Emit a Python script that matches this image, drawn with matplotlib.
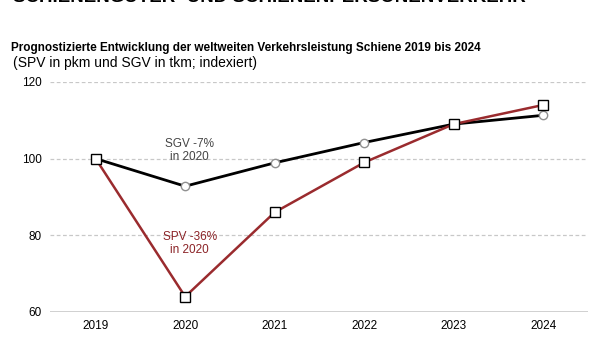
import matplotlib.pyplot as plt

years = [2019, 2020, 2021, 2022, 2023, 2024]
sgv = [100, 92.8, 98.9, 104.2, 109.0, 111.3]
spv = [100, 64.0, 86.0, 99.0, 109.0, 114.0]
y_ticks = [60, 80, 100, 120]

plt.rcParams['font.family'] = ['Liberation Sans', 'DejaVu Sans']

fig = plt.figure(figsize=(6.05, 3.4), dpi=100)
ax = fig.add_axes([0.0826, 0.0824, 0.972 - 0.0826, 0.759 - 0.0824])

# cut-off heading at the very top (only the bottom of the letters shows)
fig.text(0.022, 1 - 2.5 / 340, 'SCHIENENGÜTER- UND SCHIENENPERSONENVERKEHR',
         fontsize=13.5, fontweight='bold', color='black', va='baseline', ha='left')

fig.text(0.019, 1 - 48 / 340,
         'Prognostizierte Entwicklung der weltweiten Verkehrsleistung Schiene 2019 bis 2024',
         fontsize=8.5, fontweight='bold', va='center', ha='left')
fig.text(0.021, 1 - 63 / 340, '(SPV in pkm und SGV in tkm; indexiert)',
         fontsize=10, va='center', ha='left')

for y in [80, 100, 120]:
    ax.axhline(y, color='#c8c8c8', lw=0.9, ls=(0, (3, 2)), zorder=0)
ax.axhline(60, color='#c8c8c8', lw=1.2, zorder=0)

ax.plot(years, sgv, color='black', lw=2, marker='o', ms=6,
        mfc='white', mec='#909090', mew=1, zorder=3)
ax.plot(years, spv, color='#9a2b2e', lw=1.8, marker='s', ms=6.5,
        mfc='white', mec='black', mew=1, zorder=4)

ax.text(2020.05, 102.2, 'SGV -7%\nin 2020', color='#444444', fontsize=8.5,
        ha='center', va='center', linespacing=1.1)
ax.text(2020.05, 77.8, 'SPV -36%\nin 2020', color='#8b2226', fontsize=8.5,
        ha='center', va='center', linespacing=1.1)

ax.set_xlim(2018.49, 2024.5)
ax.set_ylim(60, 120)
ax.set_xticks(years)
ax.set_yticks(y_ticks)
ax.tick_params(length=0, labelsize=8.5, pad=6)
for s in ax.spines.values():
    s.set_visible(False)

fig.savefig('out.png', dpi=100)
